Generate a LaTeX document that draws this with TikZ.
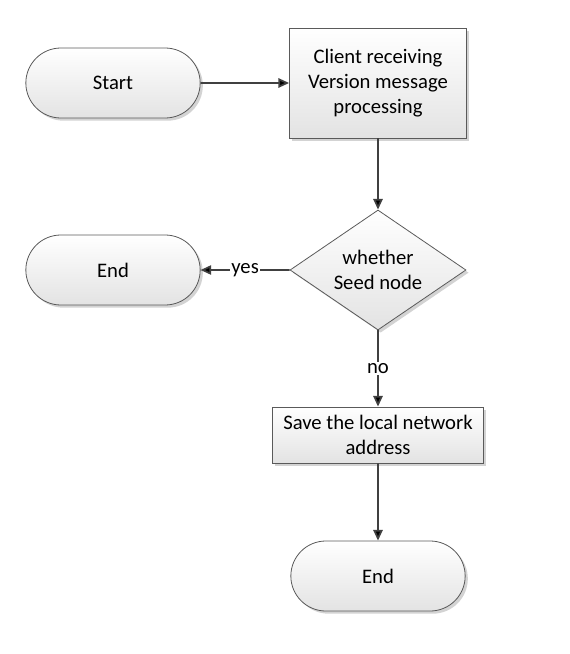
\documentclass[tikz,border=0pt]{standalone}
\usepackage{fontspec}
\setmainfont{Carlito}
\usetikzlibrary{positioning,shapes.geometric,shapes.misc,shadows,arrows.meta}

\definecolor{linegray}{HTML}{404040}
\definecolor{edgegray}{HTML}{5A5A5A}

\begin{document}
\begin{tikzpicture}[-{Triangle[length=8pt,width=7pt]}, node distance =1.3 cm and 0.5cm ,on grid,
font=\fontsize{15.5}{18.8}\selectfont,
flowbase/.style ={draw=edgegray, line width=0.6pt, top color=white, bottom color=gray!22,
  drop shadow={shadow xshift=2pt, shadow yshift=-2pt, opacity=0.35}, align=center, inner sep=1pt},
terminal/.style ={flowbase, rounded rectangle, minimum width=132.75pt, minimum height=52.5pt},
process/.style ={flowbase, rectangle, minimum width=132.75pt, minimum height=82.5pt},
decision/.style ={flowbase, diamond, aspect=1.47, minimum width=132pt, minimum height=90pt, inner sep=0pt},
flow/.style ={draw=linegray, line width=1.3pt}]
\useasboundingbox (-84.75pt,62.25pt) rectangle (342pt,-428.25pt);

\node[terminal] (Start) {Start};
\node[process] (ClientRecv) [right=198.75pt of Start] {Client receiving\\Version message\\processing};
\node[decision] (IsSeed) [below=140.25pt of ClientRecv] {whether\\Seed node};
\node[terminal] (EndSeed) [left=198.75pt of IsSeed] {End};
\node[rectangle, flowbase, minimum width=158.25pt, minimum height=42pt] (SaveAddr) [below=123.75pt of IsSeed] {Save the local network\\address};
\node[terminal] (EndSave) [below=105.75pt of SaveAddr] {End};

\path[flow] (Start) edge (ClientRecv);
\path[flow] (ClientRecv) edge (IsSeed);
\path[flow] (IsSeed) edge node[fill=white, inner sep=1pt] {yes} (EndSeed);
\path[flow] (IsSeed) edge node[fill=white, inner sep=1pt] {no} (SaveAddr);
\path[flow] (SaveAddr) edge (EndSave);
\end{tikzpicture}
\end{document}
